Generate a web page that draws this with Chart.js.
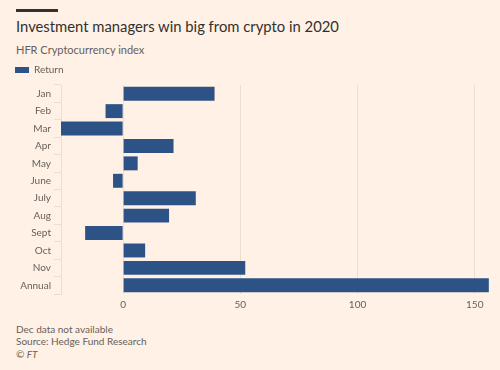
<!DOCTYPE html>
<html>
<head>
<meta charset="utf-8">
<script src="https://cdn.jsdelivr.net/npm/chart.js@4"></script>
<style>
  body { margin: 0; background: #fff1e5; font-family: Lato, "Open Sans", sans-serif; }
  #wrap { position: relative; width: 500px; height: 370px; overflow: hidden; }
  .rule { position: absolute; left: 16px; top: 9px; width: 42px; height: 3px; background: #33302e; }
  .title { position: absolute; left: 16px; top: 17px; font-size: 14.8px; line-height: 18px; color: #33302e; white-space: nowrap; }
  .sub { position: absolute; left: 16px; top: 43px; font-size: 11px; line-height: 13px; color: #66605c; }
  .notes { position: absolute; left: 16px; top: 323px; font-size: 10px; line-height: 12.3px; color: #66605c; }
  #box { position: absolute; left: 0; top: 60px; width: 500px; height: 256px; }
</style>
</head>
<body>
<div id="wrap">
  <div class="rule"></div>
  <div class="title">Investment managers win big from crypto in 2020</div>
  <div class="sub">HFR Cryptocurrency index</div>
  <div id="box"><canvas id="chart"></canvas></div>
  <div class="notes">Dec data not available<br>Source: Hedge Fund Research<br><i>© FT</i></div>
</div>
<script>
const months = ['Jan', 'Feb', 'Mar', 'Apr', 'May', 'June', 'July', 'Aug', 'Sept', 'Oct', 'Nov', 'Annual'];
const returns = [39, -7.5, -26.5, 21.5, 6.2, -4.3, 31, 19.6, -16.2, 9.4, 52.1, 156];
const xTicks = [0, 50, 100, 150];

const ink = '#66605c';
const grid = '#eadfd3';
const font = { family: 'Lato', size: 10 };

new Chart(document.getElementById('chart'), {
  type: 'bar',
  data: {
    labels: months,
    datasets: [{
      label: 'Return',
      data: returns,
      backgroundColor: '#2c5286',
      borderWidth: 0,
      barPercentage: 0.8,
      categoryPercentage: 1
    }]
  },
  options: {
    indexAxis: 'y',
    responsive: true,
    maintainAspectRatio: false,
    animation: false,
    layout: { padding: { left: 10, right: 10, top: 0, bottom: 0 } },
    plugins: {
      tooltip: { enabled: false },
      legend: {
        align: 'start',
        labels: {
          boxWidth: 14,
          boxHeight: 6,
          color: ink,
          font: font,
          padding: 5
        }
      }
    },
    scales: {
      x: {
        min: -26.5,
        max: 156.5,
        afterBuildTicks: s => { s.ticks = xTicks.map(v => ({ value: v })); },
        grid: { color: grid, drawTicks: false },
        border: { display: false },
        ticks: { color: ink, padding: 5, font: font }
      },
      y: {
        afterFit: s => { s.width = 51; },
        grid: { drawOnChartArea: false, color: grid, tickLength: 7 },
        border: { color: grid },
        ticks: { color: ink, padding: 3, font: font }
      }
    }
  }
});
</script>
</body>
</html>
